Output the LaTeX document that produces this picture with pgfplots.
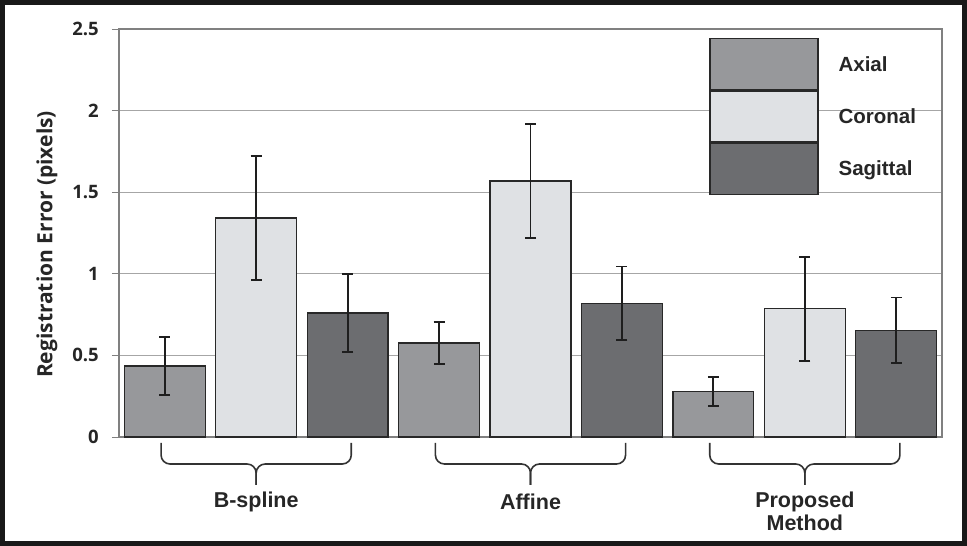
\documentclass[border=0pt]{standalone}
\usepackage{fontspec}
\setmainfont{Liberation Sans}
\newfontfamily\opensans{Open Sans}
\usepackage{pgfplots}
\pgfplotsset{compat=1.18}
\definecolor{axialc}{RGB}{151,152,155}
\definecolor{coronalc}{RGB}{223,225,228}
\definecolor{sagc}{RGB}{108,109,112}
\definecolor{edgec}{RGB}{40,40,40}
\definecolor{errc}{RGB}{30,30,30}
\pgfplotstableread{
x y e
0 0.435 0.180
3 0.576 0.127
6 0.280 0.088
}\axial
\pgfplotstableread{
x y e
1 1.342 0.380
4 1.569 0.350
7 0.785 0.320
}\coronal
\pgfplotstableread{
x y e
2 0.760 0.240
5 0.820 0.225
8 0.655 0.200
}\sagittal
\begin{document}
\begin{tikzpicture}
\path[use as bounding box] (-119pt,-109pt) rectangle (848pt,437pt);
\begin{axis}[
  at={(0pt,0pt)}, anchor=south west,
  scale only axis, width=823pt, height=408pt,
  xmin=-0.5, xmax=8.5, ymin=0, ymax=2.5,
  ytick={0,0.5,1,1.5,2,2.5},
  yticklabels={0,0.5,1,1.5,2,2.5},
  xtick=\empty,
  ytick pos=left,
  tick align=outside, major tick length=7pt,
  tick style={color=gray, line width=0.8pt},
  ymajorgrids,
  grid style={color=black!35, line width=0.9pt},
  axis line style={color=black!50, line width=1.1pt},
  /pgf/number format/assume math mode=true,
  yticklabel style={font=\opensans\bfseries\fontsize{18.5}{22}\selectfont, text=black!85, inner sep=0pt, xshift=-13pt},
  ylabel={Registration Error (pixels)},
  ylabel style={at={(axis description cs:-0.0875,0.472)}, anchor=center, text=black!85, font=\opensans\bfseries\fontsize{21}{25}\selectfont},
  clip=false,
  ybar, bar width=0.885,
  legend image code/.code={\draw[#1, line width=1.3pt] (0pt,-25.5pt) rectangle (108pt,25.5pt);},
  legend style={at={(0.717,0.978)}, anchor=north west, draw=none, fill=none,
    inner sep=0pt, row sep=0pt, nodes={inner sep=0pt, text=black!85},
    font=\bfseries\fontsize{20.5}{24}\selectfont,
    /tikz/every odd column/.append style={column sep=20pt}},
  legend cell align=left,
]
\addplot[fill=axialc, draw=edgec, line width=1.2pt, bar shift=0pt,
  error bars/.cd, y dir=both, y explicit,
  error bar style={line width=1.9pt, color=errc},
  error mark options={rotate=90, mark size=5.5pt, line width=1.9pt, color=errc}]
  table[x=x, y=y, y error=e] {\axial};
\addlegendentry{Axial}
\addplot[fill=coronalc, draw=edgec, line width=1.2pt, bar shift=0pt,
  error bars/.cd, y dir=both, y explicit,
  error bar style={line width=1.9pt, color=errc},
  error mark options={rotate=90, mark size=5.5pt, line width=1.9pt, color=errc}]
  table[x=x, y=y, y error=e] {\coronal};
\addlegendentry{Coronal}
\addplot[fill=sagc, draw=edgec, line width=1.2pt, bar shift=0pt,
  error bars/.cd, y dir=both, y explicit,
  error bar style={line width=1.9pt, color=errc},
  error mark options={rotate=90, mark size=5.5pt, line width=1.9pt, color=errc}]
  table[x=x, y=y, y error=e] {\sagittal};
\addlegendentry{Sagittal}
% group brackets
\draw[rounded corners=9pt, line width=1.6pt, color=black!80]
  ([yshift=-6pt]axis cs:-0.04,0) |- ([yshift=-27pt]axis cs:1,0) -- ([yshift=-48pt]axis cs:1,0);
\draw[rounded corners=9pt, line width=1.6pt, color=black!80]
  ([yshift=-6pt]axis cs:2.04,0) |- ([yshift=-27pt]axis cs:1,0) -- ([yshift=-48pt]axis cs:1,0);
\draw[rounded corners=9pt, line width=1.6pt, color=black!80]
  ([yshift=-6pt]axis cs:2.96,0) |- ([yshift=-27pt]axis cs:4,0) -- ([yshift=-48pt]axis cs:4,0);
\draw[rounded corners=9pt, line width=1.6pt, color=black!80]
  ([yshift=-6pt]axis cs:5.04,0) |- ([yshift=-27pt]axis cs:4,0) -- ([yshift=-48pt]axis cs:4,0);
\draw[rounded corners=9pt, line width=1.6pt, color=black!80]
  ([yshift=-6pt]axis cs:5.96,0) |- ([yshift=-27pt]axis cs:7,0) -- ([yshift=-48pt]axis cs:7,0);
\draw[rounded corners=9pt, line width=1.6pt, color=black!80]
  ([yshift=-6pt]axis cs:8.04,0) |- ([yshift=-27pt]axis cs:7,0) -- ([yshift=-48pt]axis cs:7,0);
\node[font=\bfseries\fontsize{21.5}{24}\selectfont, text=black!85] at ([yshift=-65pt]axis cs:1,0) {B-spline};
\node[font=\bfseries\fontsize{21.5}{24}\selectfont, text=black!85] at ([yshift=-65pt]axis cs:4,0) {Affine};
\node[font=\bfseries\fontsize{21.5}{23}\selectfont, text=black!85, align=center] at ([yshift=-74pt]axis cs:7,0) {Proposed\\Method};
\end{axis}
\draw[line width=5pt, color=black!90] (-116.5pt,-106.5pt) rectangle (845.5pt,434.5pt);
\end{tikzpicture}
\end{document}
